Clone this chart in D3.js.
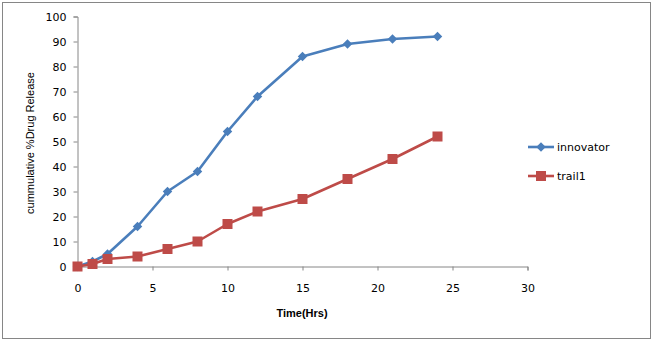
<!DOCTYPE html>
<html>
<head>
<meta charset="utf-8">
<script src="https://cdn.jsdelivr.net/npm/d3@7"></script>
<style>
  html, body { margin: 0; padding: 0; background: #fff; }
  svg { display: block; }
</style>
</head>
<body>
<svg id="chart" width="653" height="350"></svg>
<script>
const hours = [0, 1, 2, 4, 6, 8, 10, 12, 15, 18, 21, 24];
const innovator = [0, 2, 5, 16, 30, 38, 54, 68, 84, 89, 91, 92];
const trail1 = [0, 1, 3, 4, 7, 10, 17, 22, 27, 35, 43, 52];
const seriesNames = ["innovator", "trail1"];
const xTicks = [0, 5, 10, 15, 20, 25, 30];
const yTicks = [0, 10, 20, 30, 40, 50, 60, 70, 80, 90, 100];

const svg = d3.select("#chart");
const colors = ["#4A7EBB", "#BE4B48"];

// outer border
svg.append("rect").attr("x", 2.5).attr("y", 2.5).attr("width", 648).attr("height", 336)
  .attr("fill", "#fff").attr("stroke", "#868686").attr("stroke-width", 1);

const x = d3.scaleLinear().domain([0, 30]).range([77.5, 527.5]);
const y = d3.scaleLinear().domain([0, 100]).range([266.5, 16.5]);

const axisColor = "#868686";
const tickFont = "'DejaVu Sans', Verdana, sans-serif";

// Y axis
const yAxis = svg.append("g").attr("transform", `translate(${x(0)},0)`)
  .call(d3.axisLeft(y).tickValues(yTicks).tickSize(4).tickPadding(7));
// X axis
const xAxis = svg.append("g").attr("transform", `translate(0,${y(0)})`)
  .call(d3.axisBottom(x).tickValues(xTicks).tickSize(4).tickPadding(14));
[yAxis, xAxis].forEach(g => {
  g.select(".domain").attr("stroke", axisColor);
  g.selectAll(".tick line").attr("stroke", axisColor);
  g.selectAll(".tick text").attr("fill", "#000").style("font-family", tickFont).style("font-size", "11px");
});

// axis titles
svg.append("text").attr("transform", "translate(34,143) rotate(-90)")
  .attr("text-anchor", "middle").style("font-family", "'Liberation Sans', Arial, sans-serif")
  .style("font-size", "11px").text("cummulative %Drug Release");
svg.append("text").attr("x", 302).attr("y", 317).attr("text-anchor", "middle")
  .style("font-family", "'Liberation Sans', Arial, sans-serif").style("font-weight", "bold")
  .style("font-size", "11px").text("Time(Hrs)");

const line = d3.line().x(d => x(d[0])).y(d => y(d[1]));
const datasets = [innovator, trail1].map(vals => hours.map((h, i) => [h, vals[i]]));

function marker(g, k, cx, cy) {
  if (k === 0) {
    g.append("path").attr("d", d3.symbol().type(d3.symbolDiamond2).size(58)())
      .attr("transform", `translate(${cx},${cy})`).attr("fill", colors[0]);
  } else {
    g.append("rect").attr("x", cx - 5).attr("y", cy - 5).attr("width", 10).attr("height", 10)
      .attr("fill", colors[1]);
  }
}

datasets.forEach((data, k) => {
  const g = svg.append("g");
  g.append("path").datum(data).attr("d", line).attr("fill", "none")
    .attr("stroke", colors[k]).attr("stroke-width", 2.6).attr("stroke-linejoin", "round");
  data.forEach(d => marker(g, k, x(d[0]), y(d[1])));
});

// legend
const legY = [147, 176];
seriesNames.forEach((name, k) => {
  const g = svg.append("g");
  g.append("line").attr("x1", 528).attr("x2", 554).attr("y1", legY[k]).attr("y2", legY[k])
    .attr("stroke", colors[k]).attr("stroke-width", 2.6);
  marker(g, k, 541, legY[k]);
  g.append("text").attr("x", 557).attr("y", legY[k] + 4)
    .style("font-family", tickFont).style("font-size", "11px").text(name);
});
</script>
</body>
</html>
